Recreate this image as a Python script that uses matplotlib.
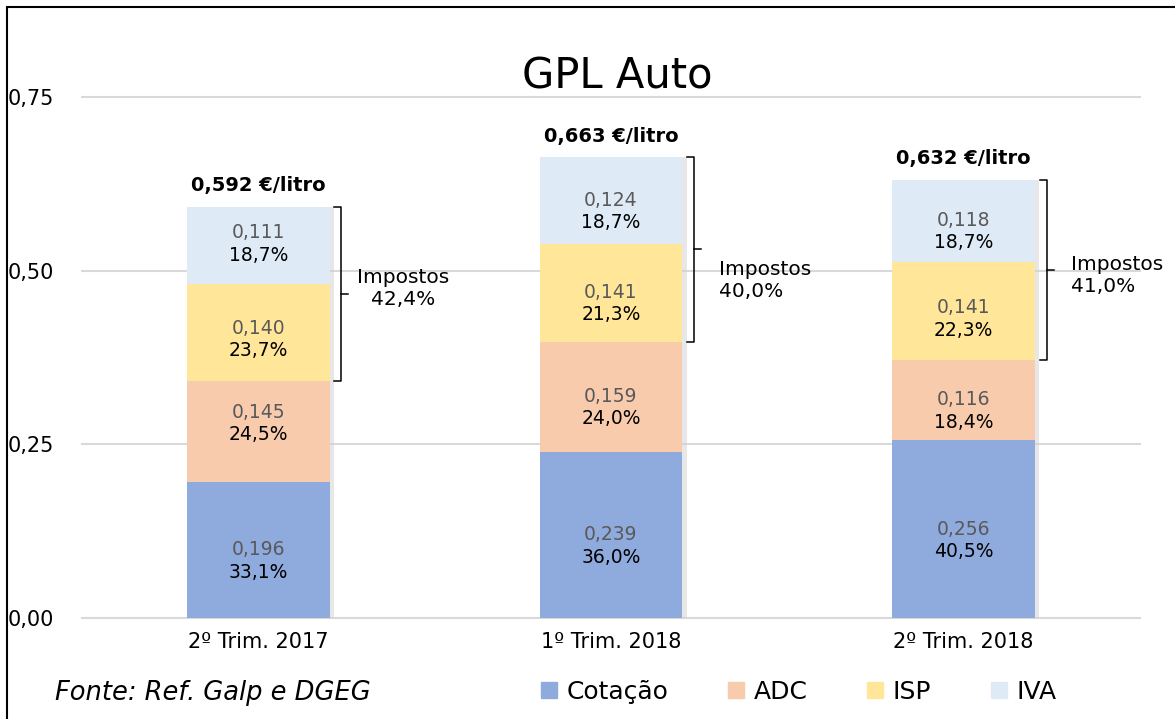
import numpy as np
import matplotlib
matplotlib.use("Agg")
import matplotlib.pyplot as plt
from matplotlib.lines import Line2D
from matplotlib.patches import Rectangle

plt.rcParams['font.family'] = ['DejaVu Sans']

# data
categories = ["2º Trim. 2017", "1º Trim. 2018", "2º Trim. 2018"]
series = ["Cotação", "ADC", "ISP", "IVA"]
cotacao = [0.196, 0.239, 0.256]
adc = [0.145, 0.159, 0.116]
isp = [0.140, 0.141, 0.141]
iva = [0.111, 0.124, 0.118]
pct_cotacao = ["33,1%", "36,0%", "40,5%"]
pct_adc = ["24,5%", "24,0%", "18,4%"]
pct_isp = ["23,7%", "21,3%", "22,3%"]
pct_iva = ["18,7%", "18,7%", "18,7%"]
totals = ["0,592 €/litro", "0,663 €/litro", "0,632 €/litro"]
impostos = ["42,4%", "40,0%", "41,0%"]
yticks = [0.0, 0.25, 0.50, 0.75]

colors = ["#8FAADC", "#F8CBAD", "#FFE699", "#DEEBF7"]

fig = plt.figure(figsize=(11.75, 7.19), dpi=100)
ax = fig.add_axes([0.0698, 0.1405, 0.9004, 0.7246])

x = np.arange(len(categories))
width = 0.405
vals = [cotacao, adc, isp, iva]
pcts = [pct_cotacao, pct_adc, pct_isp, pct_iva]
# label nudges (points) per bar / segment, as placed in the original
nudge = [[0, 14, 3, 9], [0, 0, 0, 0], [0, 0, 2, 0]]

bottom = np.zeros(len(categories))
for k, (s, v, p, c) in enumerate(zip(series, vals, pcts, colors)):
    v = np.array(v)
    # soft shadow on the right side
    ax.bar(x + 0.012, v, width, bottom=bottom, color="#d0d0d0", alpha=0.5,
           zorder=2, linewidth=0)
    ax.bar(x, v, width, bottom=bottom, color=c, label=s, zorder=3, linewidth=0)
    for i in range(len(x)):
        yc = bottom[i] + v[i] / 2
        dy = nudge[i][k]
        ax.annotate(f"{v[i]:.3f}".replace(".", ","), (x[i], yc), xytext=(0, dy),
                    textcoords="offset points", ha="center", va="center",
                    fontsize=13.5, color="#595959", zorder=5)
        ax.annotate(p[i], (x[i], yc), xytext=(0, dy - 16), textcoords="offset points",
                    ha="center", va="center", fontsize=13.5, color="black", zorder=5)
    bottom = bottom + v

tops = bottom
for i in range(len(x)):
    ax.annotate(totals[i], (x[i], tops[i]), xytext=(0, 15), textcoords="offset points",
                ha="center", va="center", fontsize=14, fontweight="bold", zorder=5)

# brackets for taxes (ISP + IVA)
tax_lo = np.array(cotacao) + np.array(adc)
txt_dy = [4, -22, -4]
for i in range(len(x)):
    bx = x[i] + width / 2 + 0.033
    lo, hi = tax_lo[i], tops[i]
    mid = (lo + hi) / 2
    hook = 0.02
    ax.plot([bx - hook, bx, bx, bx - hook], [hi, hi, lo, lo], color="black",
            lw=1.1, zorder=4, clip_on=False)
    ax.plot([bx, bx + hook], [mid, mid], color="black", lw=1.1, zorder=4, clip_on=False)
    if i == 0:
        ax.annotate("Impostos\n" + impostos[i], (bx + 0.175, mid), xytext=(0, txt_dy[i]),
                    textcoords="offset points", ha="center", va="center",
                    fontsize=14.5, linespacing=1.2, zorder=5)
    else:
        ax.annotate("Impostos\n" + impostos[i], (bx + 0.07, mid), xytext=(0, txt_dy[i]),
                    textcoords="offset points", ha="left", va="center",
                    fontsize=14.5, linespacing=1.2, zorder=5)

ax.set_xlim(-0.5, 2.5)
ax.set_ylim(0, 0.75)
ax.set_yticks(yticks)
ax.set_yticklabels([f"{t:.2f}".replace(".", ",") for t in yticks], fontsize=15)
ax.set_xticks(x)
ax.set_xticklabels(categories, fontsize=15)
ax.tick_params(axis="y", length=0, pad=20)
ax.tick_params(axis="x", length=0, pad=10)
for sp in ax.spines.values():
    sp.set_visible(False)
ax.yaxis.grid(True, color="#D9D9D9", lw=1.5, zorder=0)
ax.set_axisbelow(True)
for gl in ax.get_ygridlines():
    gl.set_clip_on(False)

fig.text(0.525, 0.894, "GPL Auto", ha="center", va="center", fontsize=30)
fig.text(0.047, 0.036, "Fonte: Ref. Galp e DGEG", ha="left", va="center",
         fontsize=18.5, style="italic")

handles = [Line2D([], [], marker="s", linestyle="none", markersize=11,
                  markerfacecolor=c, markeredgecolor=c) for c in colors]
fig.legend(handles, series, loc="center", bbox_to_anchor=(0.679, 0.038), ncol=4,
           frameon=False, fontsize=18, handletextpad=0.3, columnspacing=2.3,
           handlelength=0.8)

# outer frame
fig.patches.append(Rectangle((7 / 1175, -0.05), 1.2, 1 - 7 / 719 + 0.05,
                             transform=fig.transFigure, fill=False,
                             edgecolor="black", lw=1.5))

fig.savefig("out.png", dpi=100)
